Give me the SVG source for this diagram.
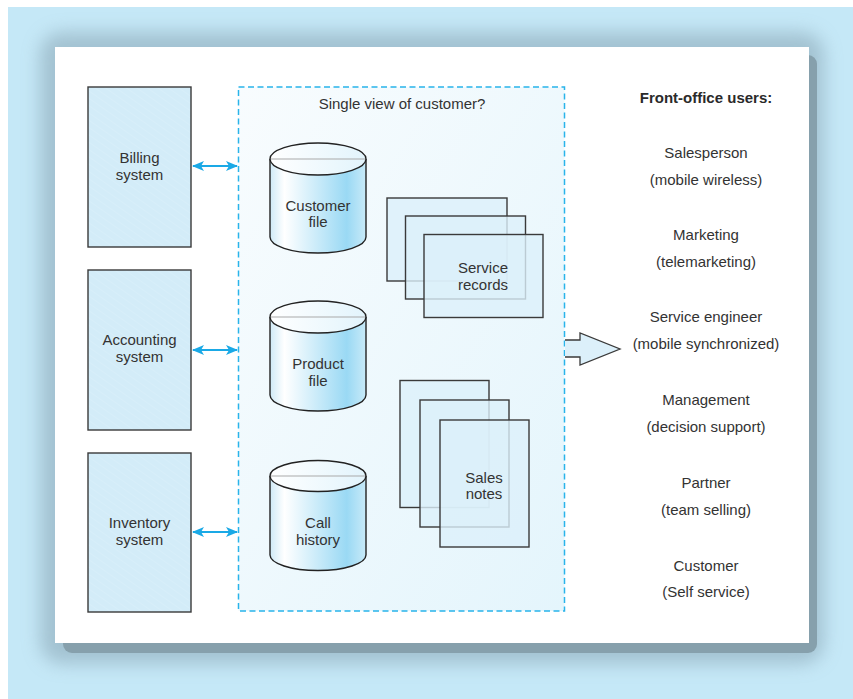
<svg xmlns="http://www.w3.org/2000/svg" width="853" height="699" viewBox="0 0 853 699">
<defs>
<style>
.t{font-family:"Liberation Sans",Arial,sans-serif;font-size:15px;fill:#333;text-anchor:middle}
.b{font-weight:bold;font-size:15px;fill:#2a2a2a}
.sys{stroke:#3a3a3a;stroke-width:1.4;fill:url(#hatch)}
.doc{stroke:#3a3a3a;stroke-width:1.4;fill:#dcf0fa;fill-opacity:0.8}
.cyl{stroke:#222;stroke-width:1.4;fill:url(#cylg)}
.top{stroke:#222;stroke-width:1.4;fill:url(#topg)}
.rim{stroke:#aaa;stroke-width:1.2}
.conn{stroke:#1aa9e6;stroke-width:1.8;fill:none;marker-start:url(#ah);marker-end:url(#ah)}
</style>
<pattern id="hatch" width="6" height="6" patternUnits="userSpaceOnUse" patternTransform="rotate(-55)">
<rect width="6" height="6" fill="#d3ecf8"/>
<line x1="0" y1="0" x2="0" y2="6" stroke="#dcf1fa" stroke-width="1"/>
</pattern>
<linearGradient id="cylg" x1="0" y1="0" x2="1" y2="0">
<stop offset="0" stop-color="#cfeaf7"/>
<stop offset="0.15" stop-color="#ffffff"/>
<stop offset="0.8" stop-color="#9ad9f4"/>
<stop offset="1" stop-color="#c8eaf8"/>
</linearGradient>
<linearGradient id="topg" x1="0" y1="0" x2="1" y2="0">
<stop offset="0" stop-color="#ffffff"/>
<stop offset="1" stop-color="#e2f4fc"/>
</linearGradient>
<linearGradient id="panelg" x1="0" y1="0" x2="1" y2="1">
<stop offset="0" stop-color="#f8fcfe"/>
<stop offset="1" stop-color="#e4f5fc"/>
</linearGradient>
<filter id="blur" x="-10%" y="-10%" width="120%" height="120%">
<feGaussianBlur stdDeviation="9"/>
</filter>
<marker id="ah" viewBox="0 0 12 10" refX="11" refY="5" markerWidth="12" markerHeight="10" orient="auto-start-reverse" markerUnits="userSpaceOnUse">
<path d="M0,0 L12,5 L0,10 L3,5 Z" fill="#1aa9e6"/>
</marker>
</defs>

<g id="background">
<rect x="0" y="0" width="853" height="699" fill="#ffffff"/>
<rect x="8" y="7" width="845" height="692" fill="#c5e8f7"/>
<rect x="40" y="32" width="784" height="632" rx="22" fill="#97b5c4" filter="url(#blur)" opacity="0.75"/>
<rect x="63" y="55" width="754" height="598" rx="9" fill="#86a0ac"/>
<rect x="55" y="47" width="754" height="596" fill="#ffffff"/>
</g>

<g id="billing">
<rect class="sys" x="88" y="87" width="103" height="160"/>
<text class="t" x="139.5" y="163">Billing</text>
<text class="t" x="139.5" y="180">system</text>
</g>
<g id="accounting">
<rect class="sys" x="88" y="270" width="103" height="160"/>
<text class="t" x="139.5" y="345">Accounting</text>
<text class="t" x="139.5" y="362">system</text>
</g>
<g id="inventory">
<rect class="sys" x="88" y="453" width="103" height="159"/>
<text class="t" x="139.5" y="528">Inventory</text>
<text class="t" x="139.5" y="545">system</text>
</g>

<g id="single-view">
<rect x="238.5" y="87" width="326" height="524" fill="url(#panelg)" stroke="#29b4ea" stroke-width="1.5" stroke-dasharray="6,3.5"/>
<text class="t" x="402" y="109">Single view of customer?</text>
</g>

<g id="customer-file">
<path class="cyl" d="M270,159 V237 A48,16 0 0 0 366,237 V159"/>
<ellipse class="top" cx="318" cy="159" rx="48" ry="16"/>
<line class="rim" x1="271" y1="159" x2="365" y2="159"/>
<text class="t" x="318" y="211">Customer</text>
<text class="t" x="318" y="227">file</text>
</g>
<g id="product-file">
<path class="cyl" d="M270,317 V395 A48,16 0 0 0 366,395 V317"/>
<ellipse class="top" cx="318" cy="317" rx="48" ry="16"/>
<line class="rim" x1="271" y1="317" x2="365" y2="317"/>
<text class="t" x="318" y="369">Product</text>
<text class="t" x="318" y="386">file</text>
</g>
<g id="call-history">
<path class="cyl" d="M270,476 V555 A48,15.5 0 0 0 366,555 V476"/>
<ellipse class="top" cx="318" cy="476" rx="48" ry="15.5"/>
<line class="rim" x1="271" y1="476" x2="365" y2="476"/>
<text class="t" x="318" y="528">Call</text>
<text class="t" x="318" y="545">history</text>
</g>

<g id="service-records">
<rect class="doc" x="387" y="198" width="120" height="83"/>
<rect class="doc" x="405.5" y="216" width="120" height="83"/>
<rect class="doc" x="424" y="234.5" width="119" height="83"/>
<text class="t" x="483" y="273">Service</text>
<text class="t" x="483" y="290">records</text>
</g>

<g id="sales-notes">
<rect class="doc" x="400" y="380.5" width="89" height="127"/>
<rect class="doc" x="420" y="400" width="89" height="127"/>
<rect class="doc" x="440" y="420" width="89" height="127"/>
<text class="t" x="484" y="483">Sales</text>
<text class="t" x="484" y="499">notes</text>
</g>

<g id="front-office">
<path d="M565,340 H580 V333 L620,349 L580,365 V357 H565" fill="#dcf0fa" stroke="#3a3a3a" stroke-width="1.3"/>
<text class="t b" x="706" y="103">Front-office users:</text>
<text class="t" x="706" y="158">Salesperson</text>
<text class="t" x="706" y="185">(mobile wireless)</text>
<text class="t" x="706" y="240">Marketing</text>
<text class="t" x="706" y="267">(telemarketing)</text>
<text class="t" x="706" y="322">Service engineer</text>
<text class="t" x="706" y="349">(mobile synchronized)</text>
<text class="t" x="706" y="405">Management</text>
<text class="t" x="706" y="432">(decision support)</text>
<text class="t" x="706" y="488">Partner</text>
<text class="t" x="706" y="515">(team selling)</text>
<text class="t" x="706" y="571">Customer</text>
<text class="t" x="706" y="597">(Self service)</text>
</g>

<g id="connectors">
<line class="conn" x1="193" y1="166" x2="237" y2="166"/>
<line class="conn" x1="193" y1="350" x2="237" y2="350"/>
<line class="conn" x1="193" y1="532" x2="237" y2="532"/>
</g>
</svg>
